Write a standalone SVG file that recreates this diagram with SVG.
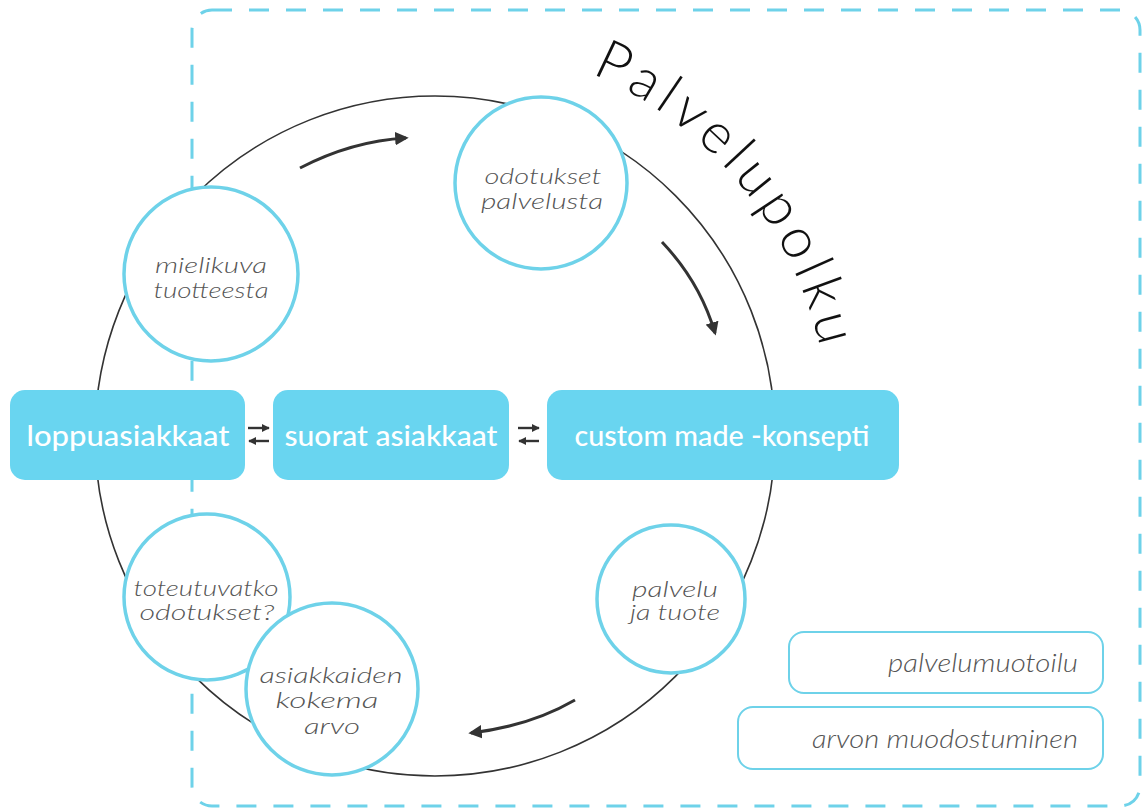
<svg xmlns="http://www.w3.org/2000/svg" width="1145" height="811" viewBox="0 0 1145 811">
<style>
.frame{fill:none;stroke:#6ed2e9;stroke-width:3;stroke-dasharray:20 17}
.ring{fill:none;stroke:#333;stroke-width:1.6}
.node{fill:#fff;stroke:#6ed2e9;stroke-width:3.5}
.box{fill:#69d5f0}
.btxt{fill:#fff;font-family:Lato,'Open Sans',sans-serif;font-weight:500;font-size:28px;text-anchor:middle}
.ctxt{fill:#555;font-family:Lato,'Open Sans',sans-serif;font-weight:300;font-style:italic;font-size:22px;text-anchor:middle}
.tag{fill:#fff;stroke:#6ed2e9;stroke-width:2}
.ttxt{fill:#555;font-family:Lato,'Open Sans',sans-serif;font-weight:300;font-style:italic;font-size:25px;text-anchor:end}
.flow{fill:none;stroke:#333;stroke-width:3}
.sw{fill:none;stroke:#333;stroke-width:2.4}
.title{fill:#111;font-family:Lato,'Open Sans',sans-serif;font-weight:300;font-size:56px}
</style>
<defs>
<marker id="ah" viewBox="0 0 10 10" refX="8" refY="5" markerWidth="4.5" markerHeight="4.5" orient="auto" markerUnits="strokeWidth">
<path d="M0,0 L10,5 L0,10 z" fill="#333"/>
</marker>
<marker id="sh" viewBox="0 0 10 10" refX="9" refY="5" markerWidth="3.4" markerHeight="3.4" orient="auto" markerUnits="strokeWidth">
<path d="M0,0 L10,5 L0,10 z" fill="#333"/>
</marker>
<path id="arc" d="M583,70 A392,392 0 0 1 824,367"/>
</defs>
<rect class="frame" x="192" y="10" width="948" height="796" rx="20"/>
<circle class="ring" cx="435" cy="436" r="340"/>
<text class="title"><textPath href="#arc" startOffset="9" textLength="370" lengthAdjust="spacing">Palvelupolku</textPath></text>
<g id="connectors">
<path class="flow" d="M300,168 Q352,141 406,138" marker-end="url(#ah)"/>
<path class="flow" d="M662,242 Q700,282 715,333" marker-end="url(#ah)"/>
<path class="flow" d="M575,700 Q530,726 471,733" marker-end="url(#ah)"/>
<path class="sw" d="M248,428 H269" marker-end="url(#sh)"/>
<path class="sw" d="M269,441 H249" marker-end="url(#sh)"/>
<path class="sw" d="M518,428 H539" marker-end="url(#sh)"/>
<path class="sw" d="M539,441 H519" marker-end="url(#sh)"/>
</g>
<g id="n-odotukset"><circle class="node" cx="541" cy="183" r="86"/><text class="ctxt"><tspan x="543" y="184" textLength="117" lengthAdjust="spacingAndGlyphs">odotukset</tspan><tspan x="542" y="209" textLength="122" lengthAdjust="spacingAndGlyphs">palvelusta</tspan></text></g>
<g id="n-mielikuva"><circle class="node" cx="211" cy="274" r="87"/><text class="ctxt"><tspan x="211" y="273" textLength="112" lengthAdjust="spacingAndGlyphs">mielikuva</tspan><tspan x="211" y="298" textLength="115" lengthAdjust="spacingAndGlyphs">tuotteesta</tspan></text></g>
<g id="n-toteutuvatko"><circle class="node" cx="207" cy="597" r="83"/><text class="ctxt"><tspan x="206" y="596" textLength="145" lengthAdjust="spacingAndGlyphs">toteutuvatko</tspan><tspan x="207" y="620" textLength="135" lengthAdjust="spacingAndGlyphs">odotukset?</tspan></text></g>
<g id="n-asiakkaiden"><circle class="node" cx="332" cy="689" r="86"/><text class="ctxt"><tspan x="331" y="683" textLength="143" lengthAdjust="spacingAndGlyphs">asiakkaiden</tspan><tspan x="327" y="708" textLength="103" lengthAdjust="spacingAndGlyphs">kokema</tspan><tspan x="332" y="734" textLength="56" lengthAdjust="spacingAndGlyphs">arvo</tspan></text></g>
<g id="n-palvelu"><circle class="node" cx="671" cy="599" r="74"/><text class="ctxt"><tspan x="675" y="597" textLength="86" lengthAdjust="spacingAndGlyphs">palvelu</tspan><tspan x="675" y="620" textLength="90" lengthAdjust="spacingAndGlyphs">ja tuote</tspan></text></g>
<g id="n-loppu"><rect class="box" x="10" y="390" width="235" height="90" rx="15"/><text class="btxt" x="128" y="446" textLength="203" lengthAdjust="spacingAndGlyphs">loppuasiakkaat</text></g>
<g id="n-suorat"><rect class="box" x="273" y="390" width="236" height="90" rx="15"/><text class="btxt" x="391" y="446" textLength="213" lengthAdjust="spacingAndGlyphs">suorat asiakkaat</text></g>
<g id="n-custom"><rect class="box" x="547" y="390" width="352" height="90" rx="15"/><text class="btxt" x="722" y="446" textLength="295" lengthAdjust="spacingAndGlyphs">custom made -konsepti</text></g>
<g id="t-palvelumuotoilu"><rect class="tag" x="789" y="632" width="314" height="61" rx="15"/><text class="ttxt" x="1078" y="672" textLength="190" lengthAdjust="spacingAndGlyphs">palvelumuotoilu</text></g>
<g id="t-arvon"><rect class="tag" x="738" y="707" width="365" height="62" rx="15"/><text class="ttxt" x="1078" y="748" textLength="266" lengthAdjust="spacingAndGlyphs">arvon muodostuminen</text></g>
</svg>
